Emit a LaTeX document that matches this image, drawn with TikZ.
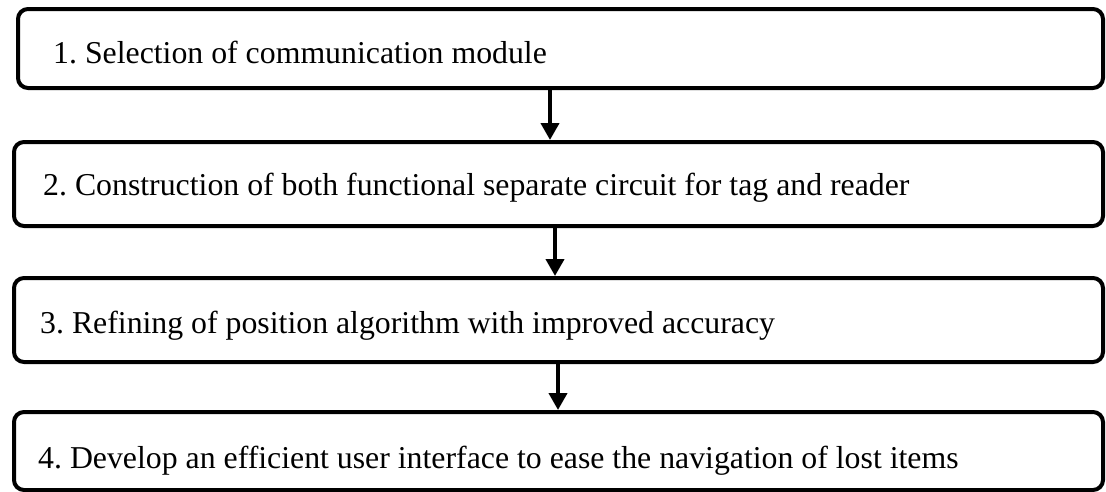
\documentclass[tikz,border=0pt]{standalone}
\usepackage{fontspec}
\setmainfont{Liberation Serif}
\usetikzlibrary{arrows.meta}
\begin{document}
\frenchspacing
\begin{tikzpicture}[x=1pt,y=-1pt,
  stepbox/.style={draw=black, line width=4pt, rounded corners=10pt, inner sep=0pt},
  steptext/.style={anchor=base west, inner sep=0pt, font=\fontsize{31.8}{38}\selectfont},
  flow/.style={line width=4pt, -{Triangle[width=18pt,length=17pt]}}]
\useasboundingbox (0,0) rectangle (1106,491);
% step boxes
\node[stepbox, minimum width=1085pt, minimum height=79pt] (b1) at (560.5,48.5) {};
\node[stepbox, minimum width=1089pt, minimum height=84pt] (b2) at (558.5,184) {};
\node[stepbox, minimum width=1089pt, minimum height=84pt] (b3) at (558.5,320) {};
\node[stepbox, minimum width=1089pt, minimum height=78pt] (b4) at (558.5,451) {};
% step labels
\node[steptext] (t1) at (53,63) {1. Selection of communication module};
\node[steptext] (t2) at (43,195) {2. Construction of both functional separate circuit for tag and reader};
\node[steptext] (t3) at (40,333) {3. Refining of position algorithm with improved accuracy};
\node[steptext] (t4) at (38,468) {4. Develop an efficient user interface to ease the navigation of lost items};
% connectors
\draw[flow] (b1.south -| 550,0) -- (b2.north -| 550,0);
\draw[flow] (b2.south -| 555,0) -- (b3.north -| 555,0);
\draw[flow] (b3.south -| 558,0) -- (b4.north -| 558,0);
\end{tikzpicture}
\end{document}
